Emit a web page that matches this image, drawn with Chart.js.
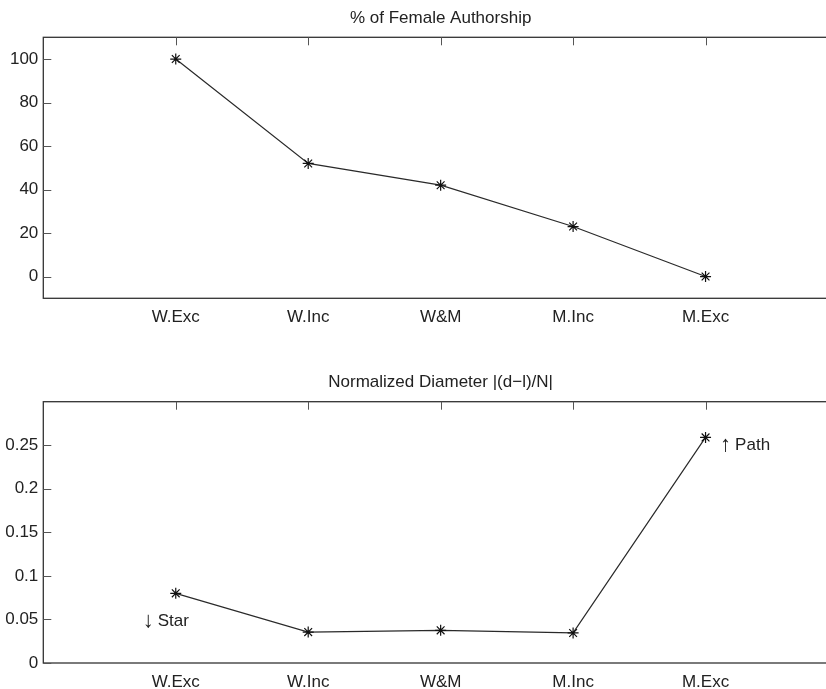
<!DOCTYPE html>
<html>
<head>
<meta charset="utf-8">
<script src="https://cdn.jsdelivr.net/npm/chart.js@4/dist/chart.umd.min.js"></script>
<style>
html,body{margin:0;padding:0;background:#fff;overflow:hidden;width:826px;height:689px;}
.box{position:absolute;left:0;}
</style>
</head>
<body>
<div class="box" style="top:0px"><canvas id="c1" width="860" height="340"></canvas></div>
<div class="box" style="top:340px"><canvas id="c2" width="860" height="360"></canvas></div>
<script>
// ---- data ----
const categories = ["W.Exc", "W.Inc", "W&M", "M.Inc", "M.Exc"];
const femaleAuthorship = [100, 52, 42, 23, 0];
const normalizedDiameter = [0.08, 0.0355, 0.0375, 0.0345, 0.259];
const titleTop = "% of Female Authorship";
const titleBottom = "Normalized Diameter |(d\u2212l)/N|";
const ticksTop = [0, 20, 40, 60, 80, 100];
const ticksBottom = [0, 0.05, 0.1, 0.15, 0.2, 0.25];
const notesBottom = [
  {arrow: "\u2193", text: "Star", x: 0.75, y: 0.048},
  {arrow: "\u2191", text: "Path", x: 5.11, y: 0.25}
];

const FONT = "'Liberation Sans', Arial, Helvetica, sans-serif";
const FS = 17;
const INK = '#222';

function framePlugin(title, notes) {
  return {
    id: 'frame',
    afterDraw(chart) {
      const {ctx, chartArea: a, scales} = chart;
      ctx.save();
      ctx.strokeStyle = '#333';
      ctx.lineWidth = 1.3;
      ctx.strokeRect(a.left, a.top, a.right - a.left, a.bottom - a.top);
      ctx.lineWidth = 1;
      ctx.strokeStyle = '#555';
      const TL = 8;
      for (let i = 1; i <= categories.length; i++) {
        const px = Math.round(scales.x.getPixelForValue(i)) + 0.5;
        ctx.beginPath(); ctx.moveTo(px, a.top); ctx.lineTo(px, a.top + TL); ctx.stroke();
      }
      scales.y.ticks.forEach(t => {
        const py = Math.round(scales.y.getPixelForValue(t.value)) + 0.5;
        ctx.beginPath(); ctx.moveTo(a.left, py); ctx.lineTo(a.left + TL, py); ctx.stroke();
      });
      ctx.fillStyle = INK;
      ctx.font = FS + 'px ' + FONT;
      ctx.textAlign = 'center';
      ctx.textBaseline = 'middle';
      ctx.fillText(title, (a.left + a.right) / 2, a.top - 19);
      ctx.textAlign = 'left';
      (notes || []).forEach(n => {
        const px = scales.x.getPixelForValue(n.x);
        const py = scales.y.getPixelForValue(n.y);
        ctx.font = '22px ' + FONT;
        ctx.fillText(n.arrow, px, py);
        const aw = ctx.measureText(n.arrow).width;
        ctx.font = FS + 'px ' + FONT;
        ctx.fillText(n.text, px + aw + 4, py);
      });
      ctx.restore();
    }
  };
}

function makeChart(id, values, yMin, yMax, yTicks, title, notes, padTop, xAxisH) {
  const pts = values.map((v, i) => ({x: i + 1, y: v}));
  return new Chart(document.getElementById(id), {
    type: 'line',
    data: {
      datasets: [{
        data: pts,
        borderColor: '#2a2a2a',
        borderWidth: 1.2,
        pointStyle: 'star',
        pointRadius: 5.5,
        pointBorderWidth: 1.2,
        pointBorderColor: '#111',
        pointBackgroundColor: '#111',
        tension: 0
      }]
    },
    options: {
      responsive: false,
      animation: false,
      layout: {padding: {top: padTop, right: 22, left: 0, bottom: 0}},
      plugins: {legend: {display: false}, tooltip: {enabled: false}, title: {display: false}},
      scales: {
        x: {
          type: 'linear', min: 0, max: 6,
          afterBuildTicks: s => { s.ticks = categories.map((c, i) => ({value: i + 1})); },
          afterFit: s => { s.height = xAxisH; },
          grid: {display: false, drawTicks: false},
          border: {display: false},
          ticks: {
            autoSkip: false, maxRotation: 0, padding: 9,
            color: INK, font: {family: FONT, size: FS},
            callback: v => categories[v - 1] || ''
          }
        },
        y: {
          min: yMin, max: yMax,
          afterBuildTicks: s => { s.ticks = yTicks.map(v => ({value: v})); },
          afterFit: s => { s.width = 43.3; },
          grid: {display: false, drawTicks: false},
          border: {display: false},
          ticks: {
            padding: 5, color: INK, font: {family: FONT, size: FS},
            callback: v => String(v)
          }
        }
      }
    },
    plugins: [framePlugin(title, notes)]
  });
}

makeChart('c1', femaleAuthorship, -10, 110, ticksTop, titleTop, [], 37.3, 41.7);
makeChart('c2', normalizedDiameter, 0, 0.3, ticksBottom, titleBottom, notesBottom, 61.7, 37);
</script>
</body>
</html>
